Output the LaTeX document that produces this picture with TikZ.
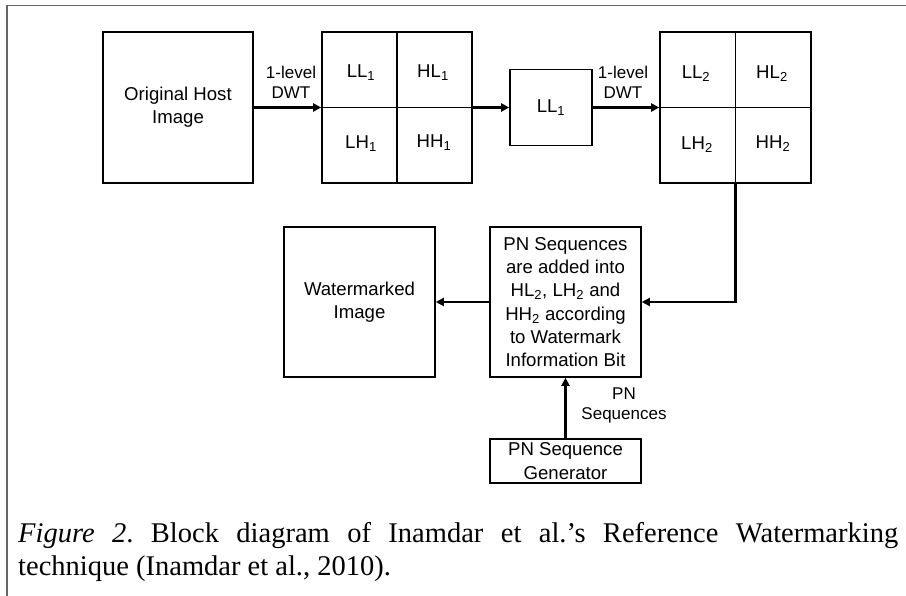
\documentclass[tikz,border=0pt]{standalone}
\usepackage{fontspec}
\setmainfont{Liberation Sans}
\newfontfamily\capfont{Liberation Serif}
\usetikzlibrary{arrows.meta}
\frenchspacing

\begin{document}
\begin{tikzpicture}[x=1pt,y=-1pt,
  box/.style={draw=black,line width=1.6pt,inner sep=0pt,align=center,
    font=\fontsize{18.6}{23.3}\selectfont},
  cell/.style={inner sep=0pt,font=\fontsize{18.6}{22}\selectfont},
  lbl/.style={inner sep=0pt,align=center,font=\fontsize{17}{20}\selectfont},
  arr/.style={line width=2.5pt,-{Triangle[length=8pt,width=8pt]}},
  divider/.style={line width=1.6pt},
  captext/.style={anchor=base west,inner sep=0pt,font=\capfont\fontsize{28.5}{34}\selectfont}]
\useasboundingbox (0,0) rectangle (906,596);

% outer frame (top and left edges only)
\draw[line width=1.8pt,color=black!60] (7.3,596) -- (7.3,5.5) -- (906,5.5);

% first row of blocks
\node[box,minimum width=150pt,minimum height=151pt] (orig) at (178,107.5) {Original Host\\Image};
\node[box,minimum width=150pt,minimum height=151pt] (g1) at (397,107.5) {};
\draw[divider] (g1.north) -- (g1.south);
\draw[divider] (g1.west) -- (g1.east);
\node[cell] (ll1) at (361,73) {LL\textsubscript{1}};
\node[cell] (hl1) at (433,73) {HL\textsubscript{1}};
\node[cell] (lh1) at (361,144) {LH\textsubscript{1}};
\node[cell] (hh1) at (434,143) {HH\textsubscript{1}};

\node[box,minimum width=82pt,minimum height=76pt] (sub) at (551,107.5) {LL\textsubscript{1}};

\node[box,minimum width=151pt,minimum height=151pt] (g2) at (735.5,107.5) {};
\draw[divider] (g2.north) -- (g2.south);
\draw[divider] (g2.west) -- (g2.east);
\node[cell] (ll2) at (696,74) {LL\textsubscript{2}};
\node[cell] (hl2) at (772,74) {HL\textsubscript{2}};
\node[cell] (lh2) at (697,145) {LH\textsubscript{2}};
\node[cell] (hh2) at (773,144) {HH\textsubscript{2}};

% second row of blocks
\node[box,minimum width=151pt,minimum height=150pt] (pn) at (565.5,302)
  {PN Sequences\\are added into\\HL\textsubscript{2}, LH\textsubscript{2} and\\HH\textsubscript{2} according\\to Watermark\\Information Bit};
\node[box,minimum width=151pt,minimum height=150pt] (wm) at (359.5,302) {Watermarked\\Image};
\node[box,minimum width=151pt,minimum height=44pt] (gen) at (565.5,461) {PN Sequence\\Generator};

% connector labels
\node[lbl] (dwt1) at (291,82) {1-level\\DWT};
\node[lbl] (dwt2) at (623,82) {1-level\\DWT};
\node[lbl] (pnl) at (624,405) {PN\\Sequences};

% connectors
\draw[arr] (orig.east) -- (g1.west);
\draw[arr] (g1.east) -- (sub.west);
\draw[arr] (sub.east) -- (g2.west);
\draw[arr] (g2.south) |- (pn.east);
\draw[arr] (pn.west) -- (wm.east);
\draw[arr] (gen.north) -- (pn.south);

% caption
\node[captext] (cap1) at (18,542)
  {\makebox[880pt][s]{\textit{Figure 2}. Block diagram of Inamdar et al.’s Reference Watermarking}};
\node[captext] (cap2) at (18,575)
  {technique (Inamdar et al., 2010).};
\end{tikzpicture}
\end{document}
